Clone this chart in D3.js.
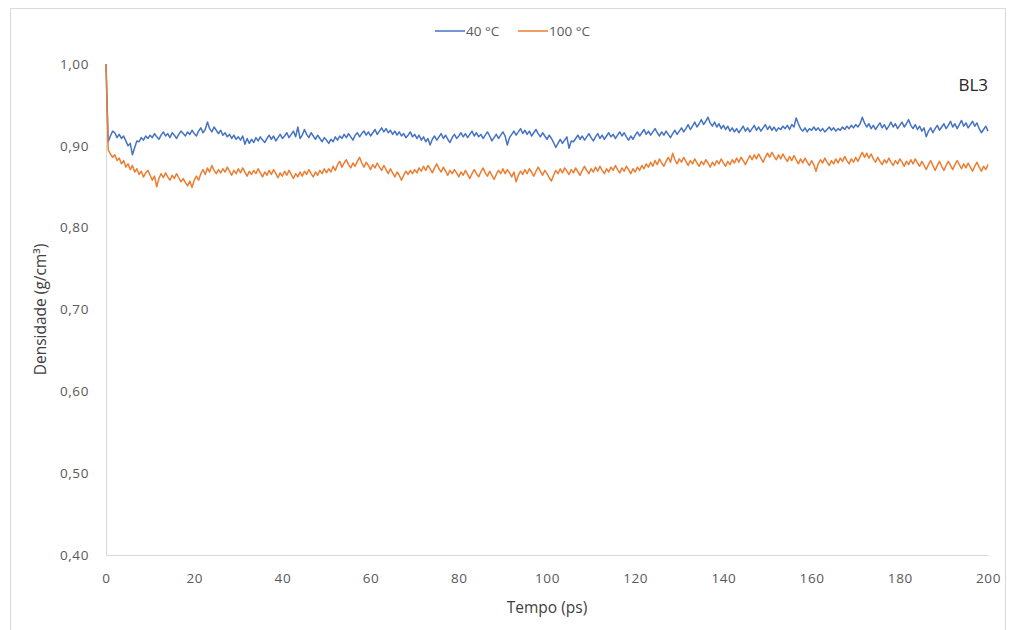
<!DOCTYPE html>
<html>
<head>
<meta charset="utf-8">
<script src="https://cdn.jsdelivr.net/npm/d3@7/dist/d3.min.js"></script>
<style>
  html, body { margin: 0; padding: 0; background: #fff; }
  svg { display: block; }
  text { font-family: "Open Sans", "DejaVu Sans", sans-serif; }
</style>
</head>
<body>
<svg id="chart" width="1011" height="630"></svg>
<script>
// ---- DATA ----
const timeStep = 0.5; // ps between samples, t = 0 .. 200
const seriesNames = ["40 °C", "100 °C"];
const xTicks = [0, 20, 40, 60, 80, 100, 120, 140, 160, 180, 200];
const yTicks = [0.40, 0.50, 0.60, 0.70, 0.80, 0.90, 1.00];
const chartLabel = "BL3";

const dens40 = [
  1.000,
  0.905,0.912,0.918,0.916,0.910,0.914,0.909,0.912,0.906,0.900,0.903,0.889,0.898,0.906,0.905,0.910,0.907,0.912,0.909,0.913,
  0.910,0.915,0.911,0.908,0.913,0.917,0.912,0.915,0.910,0.916,0.913,0.909,0.914,0.918,0.915,0.912,0.917,0.914,0.919,0.915,
  0.912,0.918,0.922,0.916,0.920,0.929,0.921,0.917,0.923,0.919,0.915,0.919,0.913,0.916,0.911,0.914,0.909,0.913,0.908,0.911,
  0.907,0.912,0.902,0.909,0.903,0.908,0.904,0.910,0.906,0.911,0.907,0.904,0.909,0.913,0.908,0.912,0.906,0.910,0.914,0.909,
  0.912,0.916,0.910,0.914,0.918,0.911,0.923,0.909,0.913,0.920,0.914,0.910,0.916,0.912,0.908,0.913,0.909,0.905,0.910,0.907,
  0.903,0.908,0.905,0.911,0.907,0.912,0.909,0.914,0.910,0.915,0.911,0.907,0.913,0.916,0.911,0.915,0.918,0.913,0.917,0.912,
  0.916,0.920,0.914,0.918,0.922,0.917,0.921,0.916,0.919,0.914,0.918,0.913,0.917,0.912,0.915,0.910,0.913,0.917,0.911,0.914,
  0.909,0.913,0.907,0.911,0.905,0.909,0.901,0.908,0.912,0.907,0.911,0.915,0.909,0.913,0.908,0.904,0.910,0.914,0.909,0.912,
  0.916,0.911,0.915,0.910,0.914,0.918,0.912,0.916,0.911,0.914,0.909,0.913,0.917,0.912,0.906,0.910,0.914,0.909,0.913,0.917,
  0.912,0.901,0.910,0.914,0.918,0.913,0.917,0.921,0.915,0.919,0.914,0.918,0.912,0.916,0.920,0.915,0.911,0.916,0.912,0.908,
  0.913,0.909,0.904,0.898,0.903,0.908,0.903,0.907,0.911,0.897,0.906,0.905,0.909,0.913,0.908,0.912,0.907,0.911,0.915,0.910,
  0.906,0.911,0.915,0.909,0.913,0.908,0.912,0.916,0.911,0.914,0.909,0.913,0.917,0.912,0.916,0.911,0.907,0.912,0.908,0.913,
  0.917,0.912,0.916,0.920,0.914,0.918,0.913,0.917,0.921,0.916,0.912,0.917,0.913,0.918,0.914,0.910,0.915,0.919,0.914,0.918,
  0.922,0.917,0.921,0.926,0.920,0.924,0.929,0.923,0.927,0.932,0.926,0.930,0.935,0.928,0.924,0.929,0.923,0.927,0.921,0.925,
  0.920,0.924,0.918,0.922,0.917,0.921,0.916,0.920,0.924,0.918,0.922,0.917,0.921,0.925,0.919,0.923,0.918,0.922,0.926,0.920,
  0.924,0.919,0.923,0.918,0.922,0.920,0.924,0.921,0.925,0.920,0.926,0.923,0.934,0.927,0.921,0.918,0.922,0.917,0.921,0.919,
  0.923,0.919,0.922,0.918,0.921,0.917,0.920,0.923,0.919,0.922,0.918,0.921,0.919,0.923,0.920,0.924,0.921,0.925,0.922,0.926,
  0.923,0.927,0.935,0.928,0.923,0.927,0.921,0.925,0.920,0.924,0.928,0.922,0.926,0.920,0.924,0.929,0.923,0.927,0.921,0.925,
  0.929,0.923,0.927,0.932,0.925,0.921,0.926,0.920,0.924,0.918,0.922,0.911,0.918,0.922,0.916,0.921,0.925,0.919,0.923,0.927,
  0.921,0.925,0.930,0.923,0.927,0.921,0.926,0.931,0.924,0.928,0.922,0.926,0.930,0.924,0.928,0.921,0.916,0.920,0.924,0.918
];

const dens100 = [
  1.000,
  0.895,0.890,0.886,0.889,0.882,0.885,0.878,0.882,0.874,0.878,0.871,0.876,0.868,0.872,0.865,0.869,0.862,0.867,0.870,0.864,
  0.858,0.863,0.850,0.860,0.866,0.861,0.867,0.862,0.858,0.864,0.860,0.866,0.861,0.856,0.860,0.855,0.851,0.857,0.849,0.858,
  0.863,0.858,0.866,0.871,0.865,0.873,0.868,0.876,0.870,0.866,0.871,0.867,0.872,0.868,0.874,0.869,0.864,0.870,0.866,0.872,
  0.867,0.873,0.868,0.863,0.869,0.865,0.870,0.866,0.872,0.867,0.862,0.868,0.864,0.870,0.865,0.871,0.866,0.861,0.867,0.863,
  0.869,0.864,0.870,0.865,0.860,0.866,0.862,0.868,0.863,0.869,0.865,0.871,0.866,0.862,0.868,0.864,0.870,0.866,0.872,0.867,
  0.872,0.868,0.875,0.870,0.877,0.881,0.874,0.879,0.883,0.877,0.873,0.879,0.875,0.881,0.886,0.879,0.874,0.880,0.876,0.871,
  0.877,0.873,0.879,0.874,0.870,0.876,0.871,0.866,0.872,0.867,0.862,0.868,0.864,0.858,0.864,0.869,0.865,0.870,0.866,0.871,
  0.867,0.873,0.869,0.875,0.870,0.876,0.872,0.867,0.873,0.878,0.872,0.868,0.874,0.869,0.864,0.870,0.866,0.871,0.867,0.862,
  0.868,0.864,0.870,0.865,0.860,0.866,0.871,0.866,0.862,0.868,0.873,0.867,0.863,0.869,0.864,0.859,0.865,0.870,0.866,0.872,
  0.866,0.871,0.867,0.862,0.868,0.856,0.864,0.869,0.865,0.871,0.866,0.872,0.868,0.863,0.869,0.874,0.869,0.864,0.870,0.866,
  0.861,0.857,0.864,0.870,0.866,0.872,0.867,0.873,0.869,0.865,0.871,0.867,0.873,0.868,0.864,0.870,0.875,0.870,0.866,0.872,
  0.868,0.874,0.869,0.875,0.870,0.866,0.872,0.868,0.874,0.870,0.876,0.871,0.867,0.873,0.869,0.875,0.871,0.866,0.872,0.868,
  0.874,0.870,0.876,0.872,0.878,0.874,0.880,0.875,0.882,0.877,0.884,0.879,0.875,0.881,0.886,0.880,0.891,0.883,0.878,0.884,
  0.880,0.886,0.881,0.876,0.882,0.878,0.884,0.879,0.875,0.881,0.877,0.883,0.879,0.874,0.880,0.876,0.882,0.878,0.884,0.879,
  0.875,0.881,0.877,0.883,0.879,0.885,0.880,0.886,0.882,0.877,0.883,0.888,0.883,0.889,0.884,0.890,0.885,0.880,0.886,0.891,
  0.886,0.892,0.887,0.883,0.889,0.884,0.890,0.885,0.881,0.887,0.882,0.888,0.883,0.878,0.884,0.879,0.885,0.880,0.876,0.882,
  0.877,0.869,0.878,0.883,0.879,0.885,0.880,0.876,0.882,0.878,0.884,0.879,0.885,0.881,0.887,0.882,0.878,0.884,0.880,0.886,
  0.881,0.887,0.892,0.886,0.891,0.885,0.890,0.884,0.880,0.886,0.881,0.877,0.883,0.879,0.885,0.880,0.876,0.882,0.878,0.884,
  0.880,0.875,0.881,0.877,0.883,0.878,0.884,0.879,0.875,0.881,0.876,0.871,0.877,0.882,0.876,0.870,0.876,0.881,0.875,0.870,
  0.876,0.881,0.876,0.871,0.877,0.882,0.877,0.872,0.878,0.873,0.879,0.874,0.869,0.875,0.880,0.874,0.869,0.875,0.871,0.877
];

const seriesValues = [dens40, dens100];
const seriesColors = ["#4472C4", "#ED7D31"];

// ---- CHART ----
const svg = d3.select("#chart");
const W = 1011, H = 630;
const plot = { left: 106, right: 988, top: 64, bottom: 555 };

// outer frame
svg.append("rect")
  .attr("x", 10.5).attr("y", 8.5)
  .attr("width", 995).attr("height", 630)
  .attr("fill", "#fff").attr("stroke", "#d9d9d9").attr("stroke-width", 1);

const x = d3.scaleLinear().domain([0, 200]).range([plot.left, plot.right]);
const y = d3.scaleLinear().domain([0.4, 1.0]).range([plot.bottom, plot.top]);

const fmt = d => d3.format(".2f")(d).replace(".", ",");

// y axis
const yAxis = svg.append("g")
  .attr("transform", `translate(${plot.left},0)`)
  .call(d3.axisLeft(y).tickValues(yTicks).tickFormat(fmt).tickSize(0).tickPadding(17));
yAxis.select(".domain").attr("stroke", "#d9d9d9");
yAxis.selectAll("text")
  .attr("fill", "#595959").style("font-size", "13.5px").style("letter-spacing", "0.6px");

// x axis
const xAxis = svg.append("g")
  .attr("transform", `translate(0,${plot.bottom})`)
  .call(d3.axisBottom(x).tickValues(xTicks).tickFormat(d3.format("d")).tickSize(0).tickPadding(18));
xAxis.select(".domain").attr("stroke", "#d9d9d9");
xAxis.selectAll("text")
  .attr("fill", "#595959").style("font-size", "13.5px").style("letter-spacing", "0.6px");

// lines
const line = d3.line()
  .x((d, i) => x(i * timeStep))
  .y(d => y(d));

seriesValues.forEach((vals, k) => {
  svg.append("path")
    .datum(vals)
    .attr("fill", "none")
    .attr("stroke", seriesColors[k])
    .attr("stroke-width", 1.5)
    .attr("stroke-linejoin", "round")
    .attr("d", line);
});

// axis titles
svg.append("text")
  .attr("x", (plot.left + plot.right) / 2 - 0).attr("y", 613)
  .attr("text-anchor", "middle")
  .attr("fill", "#404040").style("font-size", "15.5px")
  .text("Tempo (ps)");

svg.append("text")
  .attr("transform", `translate(46,${(plot.top + plot.bottom) / 2}) rotate(-90)`)
  .attr("text-anchor", "middle")
  .attr("fill", "#404040").style("font-size", "15.5px")
  .text("Densidade (g/cm³)");

// chart label
svg.append("text")
  .attr("x", 988).attr("y", 91)
  .attr("text-anchor", "end")
  .attr("fill", "#262626").style("font-size", "17px")
  .text(chartLabel);

// legend
const legend = svg.append("g");
const legendItems = [
  { x0: 435, name: seriesNames[0], color: seriesColors[0] },
  { x0: 518, name: seriesNames[1], color: seriesColors[1] }
];
legendItems.forEach(it => {
  legend.append("line")
    .attr("x1", it.x0).attr("x2", it.x0 + 30)
    .attr("y1", 31).attr("y2", 31)
    .attr("stroke", it.color).attr("stroke-width", 1.5);
  legend.append("text")
    .attr("x", it.x0 + 31).attr("y", 36)
    .attr("fill", "#595959").style("font-size", "13.5px")
    .text(it.name);
});
</script>
</body>
</html>
